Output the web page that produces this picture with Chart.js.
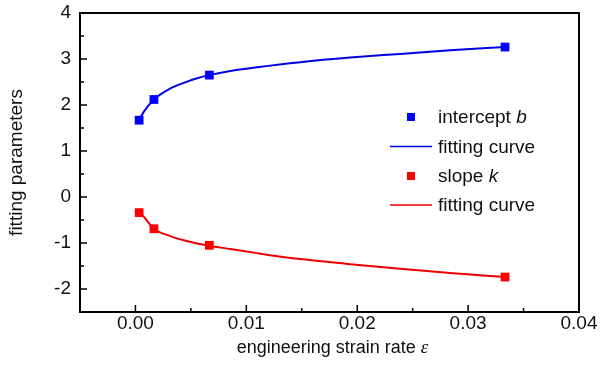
<!DOCTYPE html>
<html>
<head>
<meta charset="utf-8">
<script src="https://cdn.jsdelivr.net/npm/chart.js@4.4.0/dist/chart.umd.min.js"></script>
<style>
  html, body { margin: 0; padding: 0; background: #fff; }
  #wrap { width: 604px; height: 370px; }
</style>
</head>
<body>
<div id="wrap"><canvas id="myChart" width="604" height="370"></canvas></div>
<script>
// pontos medidos
const strainRate = [0.000333, 0.001667, 0.006667, 0.03333];
const intercept = [1.67, 2.12, 2.65, 3.26];
const slope = [-0.34, -0.69, -1.05, -1.74];

// curvas de ajuste
const fitX = [0.000333, 0.00075, 0.001667, 0.00315, 0.00435, 0.00556, 0.006667, 0.00856, 0.01096, 0.01486, 0.01937, 0.02387, 0.02838, 0.03333];
const fitB = [1.67, 1.85, 2.12, 2.36, 2.48, 2.58, 2.65, 2.74, 2.82, 2.93, 3.03, 3.11, 3.19, 3.26];
const fitK = [-0.34, -0.43, -0.69, -0.85, -0.94, -1.01, -1.06, -1.13, -1.22, -1.35, -1.46, -1.56, -1.65, -1.74];

// eixos
const xTicks = [0, 0.01, 0.02, 0.03, 0.04];
const xMinor = [-0.005, 0.005, 0.015, 0.025, 0.035];
const yTicks = [-2, -1, 0, 1, 2, 3, 4];
const yMinor = [-2.5, -1.5, -0.5, 0.5, 1.5, 2.5, 3.5];

const pts = (xs, ys) => xs.map((x, i) => ({ x: x, y: ys[i] }));
const FONT = '"Liberation Sans", Arial, sans-serif';

// moldura e ticks para dentro
const framePlugin = {
    id: 'frame',
    afterDraw(chart) {
        const ctx = chart.ctx;
        const a = chart.chartArea;
        const xs = chart.scales.x, ys = chart.scales.y;
        ctx.save();
        ctx.strokeStyle = '#000';
        ctx.lineWidth = 1.5;
        ctx.beginPath();
        xTicks.forEach(v => { const p = xs.getPixelForValue(v); ctx.moveTo(p, a.bottom); ctx.lineTo(p, a.bottom - 7); });
        xMinor.forEach(v => { const p = xs.getPixelForValue(v); ctx.moveTo(p, a.bottom); ctx.lineTo(p, a.bottom - 4); });
        yTicks.forEach(v => { const p = ys.getPixelForValue(v); ctx.moveTo(a.left, p); ctx.lineTo(a.left + 7, p); });
        yMinor.forEach(v => { const p = ys.getPixelForValue(v); ctx.moveTo(a.left, p); ctx.lineTo(a.left + 4, p); });
        ctx.stroke();
        ctx.lineWidth = 2;
        ctx.strokeRect(a.left, a.top, a.right - a.left, a.bottom - a.top);

        // titulo do eixo x com epsilon em italico
        ctx.fillStyle = '#111';
        ctx.textBaseline = 'alphabetic';
        const t1 = 'engineering strain rate ';
        ctx.font = 'italic 19px "Liberation Serif", "Times New Roman", serif';
        const w2 = ctx.measureText('ε').width;
        ctx.font = '18px ' + FONT;
        const w1 = ctx.measureText(t1).width;
        const cx = (a.left + a.right) / 2 + 3;
        const x0 = cx - (w1 + w2) / 2;
        ctx.textAlign = 'left';
        ctx.fillText(t1, x0, 353);
        ctx.font = 'italic 19px "Liberation Serif", "Times New Roman", serif';
        ctx.fillText('ε', x0 + w1, 353);

        // legenda
        const rows = [
            { y: 117, color: '#0000ff', marker: true, text: 'intercept ', it: 'b' },
            { y: 146.5, color: '#0000e6', marker: false, text: 'fitting curve', it: '' },
            { y: 176, color: '#ff0000', marker: true, text: 'slope ', it: 'k' },
            { y: 205, color: '#ee0000', marker: false, text: 'fitting curve', it: '' }
        ];
        ctx.textBaseline = 'middle';
        rows.forEach(r => {
            ctx.fillStyle = r.color;
            ctx.strokeStyle = r.color;
            if (r.marker) {
                ctx.fillRect(407, r.y - 4, 8, 8);
            } else {
                ctx.lineWidth = 1.5;
                ctx.beginPath();
                ctx.moveTo(390, r.y);
                ctx.lineTo(432, r.y);
                ctx.stroke();
            }
            ctx.fillStyle = '#111';
            ctx.font = '19px ' + FONT;
            ctx.fillText(r.text, 438, r.y + 1);
            if (r.it) {
                const w = ctx.measureText(r.text).width;
                ctx.font = 'italic 19px ' + FONT;
                ctx.fillText(r.it, 438 + w, r.y + 1);
            }
        });
        ctx.restore();
    }
};

const ctx = document.getElementById('myChart').getContext('2d');
const myChart = new Chart(ctx, {
    type: 'scatter',
    data: {
        datasets: [
            {
                label: 'fitting curve b',
                data: pts(fitX, fitB),
                showLine: true,
                borderColor: '#0000e6',
                borderWidth: 2,
                pointRadius: 0,
                cubicInterpolationMode: 'monotone',
                order: 2
            },
            {
                label: 'fitting curve k',
                data: pts(fitX, fitK),
                showLine: true,
                borderColor: '#ee0000',
                borderWidth: 2,
                pointRadius: 0,
                cubicInterpolationMode: 'monotone',
                order: 2
            },
            {
                label: 'intercept b',
                data: pts(strainRate, intercept),
                pointStyle: 'rect',
                pointRadius: 6.2,
                backgroundColor: '#0000ff',
                borderColor: '#0000ff',
                borderWidth: 0,
                order: 1
            },
            {
                label: 'slope k',
                data: pts(strainRate, slope),
                pointStyle: 'rect',
                pointRadius: 6.2,
                backgroundColor: '#ff0000',
                borderColor: '#ff0000',
                borderWidth: 0,
                order: 1
            }
        ]
    },
    options: {
        responsive: false,
        animation: false,
        layout: { padding: { top: 13, right: 25, left: 0, bottom: 0 } },
        plugins: {
            legend: { display: false },
            tooltip: { enabled: false }
        },
        scales: {
            x: {
                type: 'linear',
                min: -0.005,
                max: 0.04,
                grid: { display: false },
                border: { display: false },
                afterBuildTicks: s => { s.ticks = xTicks.map(v => ({ value: v })); },
                afterFit: s => { s.height = 58; s.paddingLeft = 0; s.paddingRight = 0; },
                ticks: {
                    color: '#111',
                    font: { family: FONT, size: 19 },
                    padding: -8,
                    maxRotation: 0,
                    callback: v => v.toFixed(2)
                }
            },
            y: {
                min: -2.5,
                max: 4,
                grid: { display: false },
                border: { display: false },
                afterBuildTicks: s => { s.ticks = yTicks.map(v => ({ value: v })); },
                afterFit: s => { s.width = 80; s.paddingTop = 0; s.paddingBottom = 0; },
                ticks: {
                    color: '#111',
                    font: { family: FONT, size: 19 },
                    padding: 1,
                    callback: v => String(v)
                },
                title: {
                    display: true,
                    text: 'fitting parameters',
                    color: '#111',
                    font: { family: FONT, size: 19 },
                    padding: { top: 5, bottom: 0 }
                }
            }
        }
    },
    plugins: [framePlugin]
});
</script>
</body>
</html>
